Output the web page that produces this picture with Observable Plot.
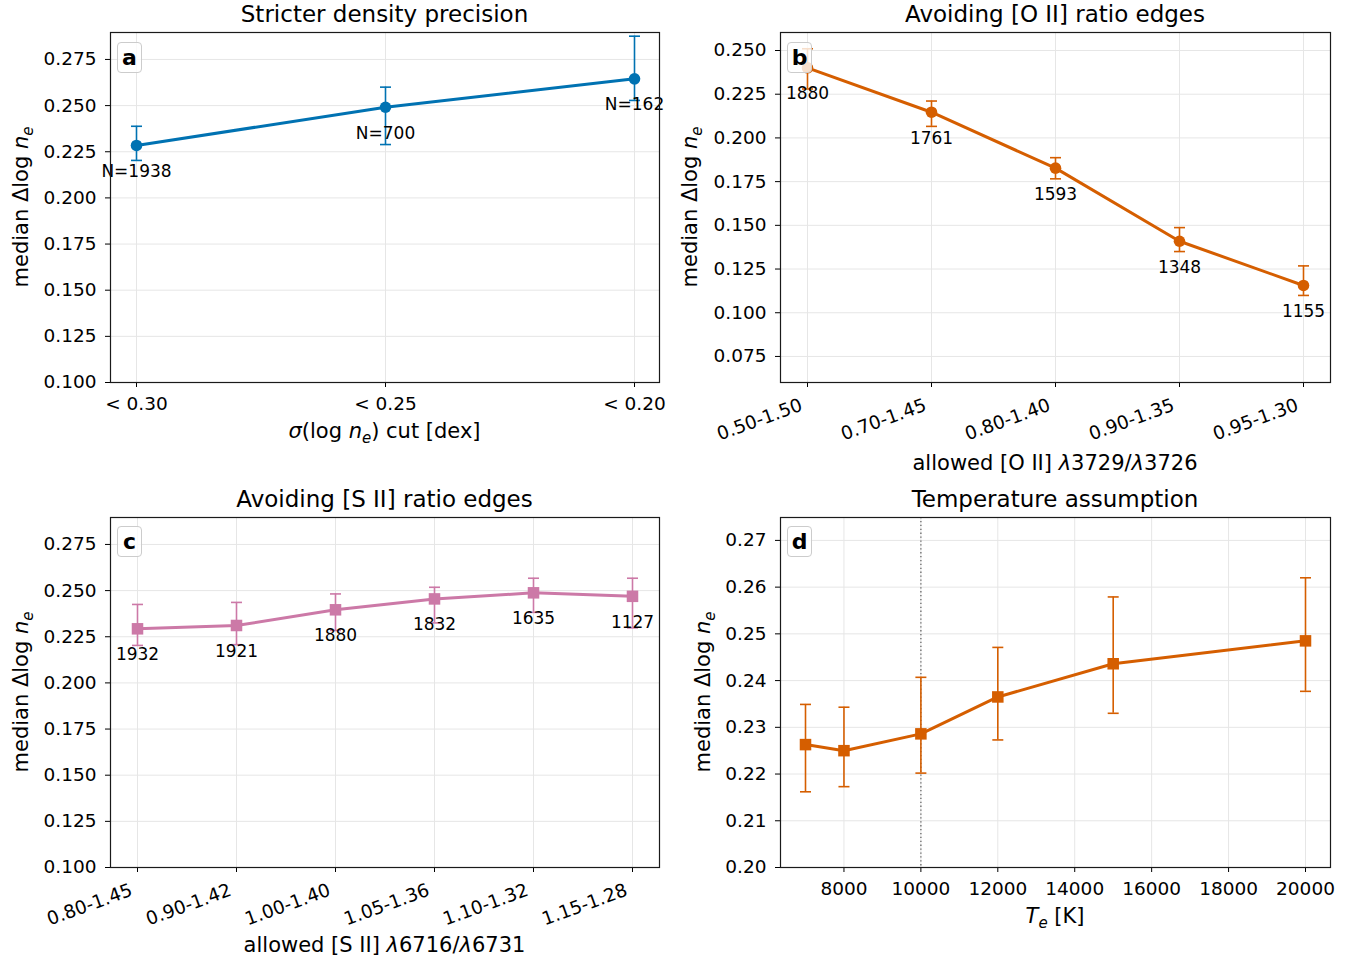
<!DOCTYPE html>
<html><head><meta charset="utf-8">
<script src="https://cdn.jsdelivr.net/npm/d3@7"></script>
<script src="https://cdn.jsdelivr.net/npm/@observablehq/plot@0.6"></script>
<style>
body{margin:0;background:#fff;}
#fig{position:relative;width:1361px;height:964px;font-family:"DejaVu Sans",sans-serif;overflow:hidden;}
#fig > svg{position:absolute;}
.tag{position:absolute;width:25px;height:31px;border:1.5px solid #cccccc;border-radius:4px;background:rgba(255,255,255,0.8);font:bold 22px "DejaVu Sans",sans-serif;text-align:center;line-height:29px;box-sizing:border-box;color:#000;}
</style></head><body><div id="fig"></div><script>
// ---------------- data ----------------
const sigmaCuts = ["< 0.30", "< 0.25", "< 0.20"];
const sigmaMedian = [0.2284, 0.2491, 0.2645];
const sigmaLo = [0.2203, 0.2289, 0.2528];
const sigmaHi = [0.2388, 0.2600, 0.2876];
const sigmaN = ["N=1938", "N=700", "N=162"];

const oiiRanges = ["0.50-1.50", "0.70-1.45", "0.80-1.40", "0.90-1.35", "0.95-1.30"];
const oiiMedian = [0.2401, 0.2147, 0.1827, 0.1409, 0.1156];
const oiiLo = [0.2280, 0.2066, 0.1766, 0.1350, 0.1099];
const oiiHi = [0.2510, 0.2211, 0.1887, 0.1487, 0.1268];
const oiiN = ["1880", "1761", "1593", "1348", "1155"];

const siiRanges = ["0.80-1.45", "0.90-1.42", "1.00-1.40", "1.05-1.36", "1.10-1.32", "1.15-1.28"];
const siiMedian = [0.2293, 0.2311, 0.2396, 0.2455, 0.2488, 0.2469];
const siiLo = [0.2203, 0.2207, 0.2284, 0.2325, 0.2382, 0.2298];
const siiHi = [0.2425, 0.2436, 0.2482, 0.2518, 0.2567, 0.2567];
const siiN = ["1932", "1921", "1880", "1832", "1635", "1127"];

const teValues = [7000, 8000, 10000, 12000, 15000, 20000];
const teMedian = [0.2263, 0.2250, 0.2286, 0.2365, 0.2436, 0.2485];
const teLo = [0.2162, 0.2173, 0.2202, 0.2273, 0.2330, 0.2377];
const teHi = [0.2349, 0.2343, 0.2407, 0.2471, 0.2579, 0.2620];
const teFiducial = [10000];

const yTicksAC = [0.100, 0.125, 0.150, 0.175, 0.200, 0.225, 0.250, 0.275];
const yTicksB = [0.075, 0.100, 0.125, 0.150, 0.175, 0.200, 0.225, 0.250];
const yTicksD = [0.20, 0.21, 0.22, 0.23, 0.24, 0.25, 0.26, 0.27];
const xTicksD = [8000, 10000, 12000, 14000, 16000, 18000, 20000];

const panelTags = ["a", "b", "c", "d"];
const panelTitles = ["Stricter density precision", "Avoiding [O II] ratio edges", "Avoiding [S II] ratio edges", "Temperature assumption"];

const BLUE = "#0072B2", ORANGE = "#D55E00", PINK = "#CC79A7";
const TICK_FS = 18.5, ANN_FS = 17;

const fig = document.getElementById("fig");
const capSym = {draw(ctx, size) { const w = Math.sqrt(size / Math.PI); ctx.moveTo(-w, 0); ctx.lineTo(w, 0); }};

function rowsOf(xs, med, lo, hi, lab) {
  return xs.map((x, i) => ({x, y: med[i], lo: lo[i], hi: hi[i], label: lab ? lab[i] : ""}));
}

function panel({left, top, width, height, margins, xScale, yDomain, yTicks, yFmt, rows, color, symbol, r, xAxisMarks, extra = [], showLabels = true}) {
  const [mt, mr, mb, ml] = margins;
  const p = Plot.plot({
    width, height, marginTop: mt, marginRight: mr, marginBottom: mb, marginLeft: ml,
    style: {fontFamily: "DejaVu Sans, sans-serif", fontSize: TICK_FS + "px", background: "transparent", color: "#000"},
    x: xScale,
    y: {domain: yDomain, ticks: yTicks},
    marks: [
      Plot.gridY(yTicks, {stroke: "#e6e6e6", strokeOpacity: 1, strokeWidth: 1}),
      Plot.gridX(xScale.ticks ?? xScale.domain, {stroke: "#e6e6e6", strokeOpacity: 1, strokeWidth: 1}),
      ...extra,
      Plot.ruleX(rows, {x: "x", y1: "lo", y2: "hi", stroke: color, strokeWidth: 1.6}),
      Plot.dot(rows, {x: "x", y: "lo", symbol: capSym, r: 5.5, stroke: color, fill: "none", strokeWidth: 1.6}),
      Plot.dot(rows, {x: "x", y: "hi", symbol: capSym, r: 5.5, stroke: color, fill: "none", strokeWidth: 1.6}),
      Plot.line(rows, {x: "x", y: "y", stroke: color, strokeWidth: 3}),
      Plot.dot(rows, {x: "x", y: "y", symbol, r, fill: color, stroke: "none"}),
      showLabels ? Plot.text(rows, {x: "x", y: "y", text: "label", dy: 26, fontSize: ANN_FS, fill: "#000"}) : null,
      Plot.axisY(yTicks, {tickFormat: yFmt, tickSize: 5, tickPadding: 9, label: null, fontSize: TICK_FS}),
      ...xAxisMarks,
      Plot.frame({stroke: "#1a1a1a", strokeWidth: 1.2})
    ]
  });
  p.style.left = left + "px";
  p.style.top = top + "px";
  fig.appendChild(p);
}

// rotated categorical axis: tick marks and shifted labels as two axis marks
const rotatedAxis = () => [
  Plot.axisX({tickSize: 5, tickFormat: () => "", label: null}),
  Plot.axisX({tickSize: 0, tickRotate: -20, tickPadding: 22, dx: -6, label: null, fontSize: TICK_FS})
];

// Panel a
panel({
  left: 0, top: 0, width: 680, height: 482, margins: [32, 21, 100, 110],
  xScale: {type: "point", domain: sigmaCuts, padding: 0.1},
  yDomain: [0.1, 0.2896], yTicks: yTicksAC, yFmt: ".3f",
  rows: rowsOf(sigmaCuts, sigmaMedian, sigmaLo, sigmaHi, sigmaN),
  color: BLUE, symbol: "circle", r: 5.8,
  xAxisMarks: [Plot.axisX({tickSize: 5, tickPadding: 9, label: null, fontSize: TICK_FS})]
});
// Panel b
panel({
  left: 680, top: 0, width: 681, height: 482, margins: [32, 31, 100, 100],
  xScale: {type: "point", domain: oiiRanges, padding: 0.2},
  yDomain: [0.0601, 0.2603], yTicks: yTicksB, yFmt: ".3f",
  rows: rowsOf(oiiRanges, oiiMedian, oiiLo, oiiHi, oiiN),
  color: ORANGE, symbol: "circle", r: 5.8,
  xAxisMarks: rotatedAxis()
});
// Panel c
panel({
  left: 0, top: 482, width: 680, height: 482, margins: [35, 21, 97, 110],
  xScale: {type: "point", domain: siiRanges, padding: 0.25},
  yDomain: [0.1, 0.2896], yTicks: yTicksAC, yFmt: ".3f",
  rows: rowsOf(siiRanges, siiMedian, siiLo, siiHi, siiN),
  color: PINK, symbol: "square", r: 6.5,
  xAxisMarks: rotatedAxis()
});
// Panel d
panel({
  left: 680, top: 482, width: 681, height: 482, margins: [35, 31, 97, 100],
  xScale: {type: "linear", domain: [6350, 20650], ticks: xTicksD},
  yDomain: [0.2, 0.2749], yTicks: yTicksD, yFmt: ".2f",
  rows: rowsOf(teValues, teMedian, teLo, teHi, null),
  color: ORANGE, symbol: "square", r: 6.5, showLabels: false,
  xAxisMarks: [Plot.axisX(xTicksD, {tickFormat: d => String(d), tickSize: 5, tickPadding: 9, label: null, fontSize: TICK_FS})],
  extra: [Plot.ruleX(teFiducial, {stroke: "#666", strokeWidth: 1.3, strokeDasharray: "1.3,2.6"})]
});

// ---------------- overlay text (titles, axis labels, panel tags) ----------------
const NS = "http://www.w3.org/2000/svg";
const ov = document.createElementNS(NS, "svg");
ov.setAttribute("width", 1361); ov.setAttribute("height", 964);
ov.style.left = "0px"; ov.style.top = "0px"; ov.style.pointerEvents = "none";
ov.setAttribute("font-family", "DejaVu Sans, sans-serif");
fig.appendChild(ov);

// parts: [text, italic?, sub?]
function addText(x, y, parts, size, rotate = 0) {
  const t = document.createElementNS(NS, "text");
  t.setAttribute("x", x); t.setAttribute("y", y);
  t.setAttribute("text-anchor", "middle");
  t.setAttribute("font-size", size);
  t.setAttribute("fill", "#000");
  if (rotate) t.setAttribute("transform", `rotate(${rotate} ${x} ${y})`);
  let shifted = 0;
  for (const [s, it, sub] of parts) {
    const ts = document.createElementNS(NS, "tspan");
    ts.textContent = s;
    if (it) ts.setAttribute("font-style", "italic");
    const want = sub ? Math.round(size * 0.25) : 0;
    if (want !== shifted) { ts.setAttribute("dy", want - shifted); shifted = want; }
    if (sub) ts.setAttribute("font-size", Math.round(size * 0.7));
    t.appendChild(ts);
  }
  ov.appendChild(t);
}

const TITLE_FS = 23, LABEL_FS = 21;
const cx = [384.5, 1055];
addText(cx[0], 22, [[panelTitles[0]]], TITLE_FS);
addText(cx[1], 22, [[panelTitles[1]]], TITLE_FS);
addText(cx[0], 507, [[panelTitles[2]]], TITLE_FS);
addText(cx[1], 507, [[panelTitles[3]]], TITLE_FS);

const yLab = [["median \u0394log "], ["n", true], ["e", true, true]];
addText(28, 207, yLab, LABEL_FS, -90);
addText(697, 207, yLab, LABEL_FS, -90);
addText(28, 692, yLab, LABEL_FS, -90);
addText(710, 692, yLab, LABEL_FS, -90);

addText(cx[0], 438, [["\u03C3", true], ["(log "], ["n", true], ["e", true, true], [") cut [dex]"]], LABEL_FS);
addText(cx[1], 470, [["allowed [O II] "], ["\u03BB", true], ["3729/"], ["\u03BB", true], ["3726"]], LABEL_FS);
addText(cx[0], 952, [["allowed [S II] "], ["\u03BB", true], ["6716/"], ["\u03BB", true], ["6731"]], LABEL_FS);
addText(cx[1], 923, [["T", true], ["e", true, true], [" [K]"]], LABEL_FS);

const tagPos = [[117, 42], [787, 42], [117, 526], [787, 526]];
panelTags.forEach((s, i) => {
  const d = document.createElement("div");
  d.className = "tag"; d.textContent = s;
  d.style.left = tagPos[i][0] + "px"; d.style.top = tagPos[i][1] + "px";
  fig.appendChild(d);
});
</script></body></html>
